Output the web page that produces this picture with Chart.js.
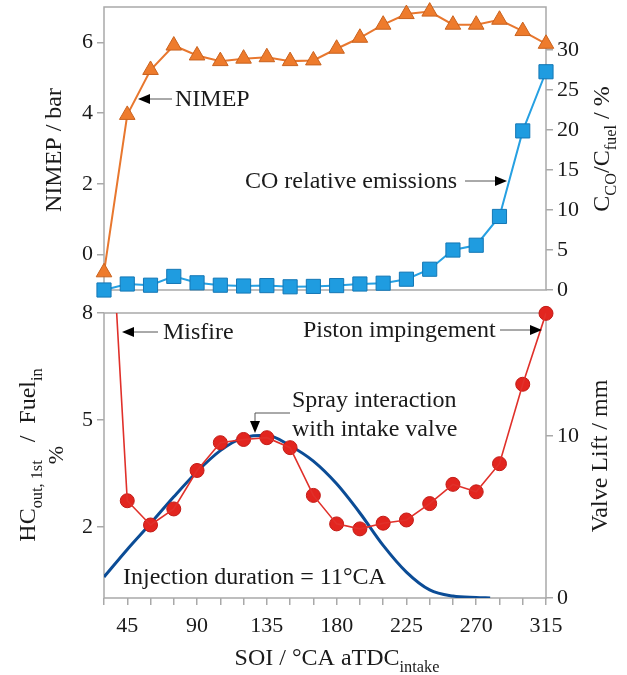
<!DOCTYPE html>
<html>
<head>
<meta charset="utf-8">
<script src="https://cdn.jsdelivr.net/npm/chart.js@4"></script>
<style>
  html, body { margin: 0; padding: 0; background: #fff; }
  #wrap { position: relative; width: 627px; height: 675px; }
  #topBox { position: absolute; left: 0; top: 0; width: 627px; height: 300px; }
  #botBox { position: absolute; left: 0; top: 300px; width: 627px; height: 375px; }
</style>
</head>
<body>
<div id="wrap">
  <div id="topBox"><canvas id="topChart"></canvas></div>
  <div id="botBox"><canvas id="botChart"></canvas></div>
</div>
<script>
// --- data ---
const soi = [30, 45, 60, 75, 90, 105, 120, 135, 150, 165, 180, 195, 210, 225, 240, 255, 270, 285, 300, 315];
const nimep = [-0.5, 3.95, 5.22, 5.91, 5.63, 5.47, 5.54, 5.58, 5.47, 5.49, 5.82, 6.13, 6.5, 6.8, 6.87, 6.5, 6.5, 6.64, 6.32, 5.96];
const coRel = [0.0, 0.75, 0.6, 1.7, 0.9, 0.6, 0.5, 0.55, 0.4, 0.45, 0.55, 0.75, 0.85, 1.35, 2.6, 5.0, 5.6, 9.2, 19.9, 27.3];
const hcOut = [14.3, 2.73, 2.05, 2.5, 3.58, 4.36, 4.45, 4.5, 4.22, 2.88, 2.08, 1.94, 2.1, 2.19, 2.65, 3.19, 2.98, 3.77, 6.0, 7.99];
const liftSoi = [30, 45, 60, 75, 90, 105, 120, 135, 150, 165, 180, 195, 210, 225, 240, 255, 270, 279];
const valveLift = [1.3, 3.0, 4.6, 6.25, 7.8, 9.1, 9.9, 10.05, 9.4, 8.45, 7.05, 5.25, 3.25, 1.6, 0.5, 0.12, 0.03, 0];

const nimepTicks = [0, 2, 4, 6];
const coTicks = [0, 5, 10, 15, 20, 25, 30];
const hcTicks = [2, 5, 8];
const liftTicks = [0, 10];

const pts = (xs, ys) => xs.map((x, i) => ({ x: x, y: ys[i] }));

const SERIF = '"Liberation Serif", "Times New Roman", serif';
const AXIS = '#a9a9a9';
const INK = '#1a1a1a';

// texto con subíndices, opcionalmente girado
function drawParts(ctx, parts, cx, cy, size, rot) {
  ctx.save();
  ctx.translate(cx, cy);
  if (rot) ctx.rotate(rot);
  ctx.fillStyle = INK;
  ctx.textBaseline = 'alphabetic';
  ctx.textAlign = 'left';
  let total = 0;
  parts.forEach(p => {
    ctx.font = (p[1] ? size * 0.68 : size) + 'px ' + SERIF;
    total += ctx.measureText(p[0]).width;
  });
  let x = -total / 2;
  parts.forEach(p => {
    ctx.font = (p[1] ? size * 0.68 : size) + 'px ' + SERIF;
    ctx.fillText(p[0], x, size * 0.34 + (p[1] ? size * 0.28 : 0));
    x += ctx.measureText(p[0]).width;
  });
  ctx.restore();
}

function arrow(ctx, path) {
  ctx.save();
  ctx.strokeStyle = '#555';
  ctx.lineWidth = 1;
  ctx.beginPath();
  ctx.moveTo(path[0][0], path[0][1]);
  for (let i = 1; i < path.length - 1; i++) ctx.lineTo(path[i][0], path[i][1]);
  const [tx, ty] = path[path.length - 1];
  const [px, py] = path[path.length - 2];
  const a = Math.atan2(ty - py, tx - px);
  const len = 12, hw = 5;
  const bx = tx - Math.cos(a) * len, by = ty - Math.sin(a) * len;
  ctx.lineTo(bx, by);
  ctx.stroke();
  ctx.fillStyle = '#000';
  ctx.beginPath();
  ctx.moveTo(tx, ty);
  ctx.lineTo(bx + Math.sin(a) * hw, by - Math.cos(a) * hw);
  ctx.lineTo(bx - Math.sin(a) * hw, by + Math.cos(a) * hw);
  ctx.closePath();
  ctx.fill();
  ctx.restore();
}

function label(ctx, text, x, y, size) {
  ctx.save();
  ctx.font = size + 'px ' + SERIF;
  ctx.fillStyle = INK;
  ctx.textBaseline = 'middle';
  ctx.textAlign = 'left';
  ctx.fillText(text, x, y);
  ctx.restore();
}

const framePlugin = {
  id: 'frame',
  beforeDatasetsDraw(chart) {
    const a = chart.chartArea, ctx = chart.ctx;
    ctx.save();
    ctx.strokeStyle = AXIS;
    ctx.lineWidth = 1.5;
    ctx.strokeRect(a.left, a.top, a.right - a.left, a.bottom - a.top);
    ctx.restore();
  }
};

function yAxis(pos, min, max, list, width) {
  return {
    position: pos, min: min, max: max,
    afterBuildTicks: s => { s.ticks = list.map(v => ({ value: v })); },
    afterFit: s => { s.width = width; s.paddingTop = 0; s.paddingBottom = 0; },
    grid: { display: true, drawOnChartArea: false, tickLength: 7, color: AXIS, lineWidth: 1.5 },
    border: { display: false },
    ticks: { font: { family: SERIF, size: 22 }, color: INK, padding: 4 }
  };
}

const common = {
  responsive: true,
  maintainAspectRatio: false,
  animation: false,
  plugins: { legend: { display: false }, tooltip: { enabled: false } }
};

// --- panel superior: NIMEP y CO ---
new Chart(document.getElementById('topChart'), {
  type: 'line',
  data: {
    datasets: [{
      label: 'NIMEP', data: pts(soi, nimep), yAxisID: 'yL', clip: false,
      borderColor: '#e8772e', borderWidth: 2, pointStyle: 'triangle', pointRadius: 9,
      pointBackgroundColor: '#ee7b2c', pointBorderColor: '#c9621e', pointBorderWidth: 1
    }, {
      label: 'CO', data: pts(soi, coRel), yAxisID: 'yR', clip: false,
      borderColor: '#26a0e2', borderWidth: 2, pointStyle: 'rect', pointRadius: 10,
      pointBackgroundColor: '#1f9ce0', pointBorderColor: '#1477b5', pointBorderWidth: 1
    }]
  },
  options: Object.assign({}, common, {
    layout: { autoPadding: false, padding: { top: 7, bottom: 10, left: 0, right: 0 } },
    scales: {
      x: { type: 'linear', min: 30, max: 315, display: false },
      yL: yAxis('left', -1, 7, nimepTicks, 104),
      yR: yAxis('right', 0, 35.4, coTicks, 81)
    }
  }),
  plugins: [framePlugin, {
    id: 'topText',
    afterDraw(chart) {
      const ctx = chart.ctx;
      drawParts(ctx, [['NIMEP / bar', 0]], 53, 150, 24, -Math.PI / 2);
      drawParts(ctx, [['C', 0], ['CO', 1], ['/C', 0], ['fuel', 1], [' / %', 0]], 601, 149, 24, -Math.PI / 2);
      arrow(ctx, [[172, 99], [138, 99]]);
      label(ctx, 'NIMEP', 175, 100, 24);
      label(ctx, 'CO relative emissions', 245, 182, 24);
      arrow(ctx, [[465, 181], [507, 181]]);
    }
  }]
});

// --- panel inferior: HC y alzado de válvula ---
new Chart(document.getElementById('botChart'), {
  type: 'line',
  data: {
    datasets: [{
      // línea recortada al área (el primer punto sale por arriba: misfire)
      label: 'HC line', data: pts(soi, hcOut), yAxisID: 'yL',
      borderColor: '#e0302a', borderWidth: 1.6, pointRadius: 0
    }, {
      label: 'HC', data: pts(soi, hcOut), yAxisID: 'yL', showLine: false, clip: false,
      pointStyle: 'circle', pointRadius: c => (c.raw && c.raw.y > 8 ? 0 : 7),
      pointBackgroundColor: '#e2251f', pointBorderColor: '#c21b16', pointBorderWidth: 1
    }, {
      label: 'Valve lift', data: pts(liftSoi, valveLift), yAxisID: 'yR',
      borderColor: '#0b4c96', borderWidth: 3, pointRadius: 0, cubicInterpolationMode: 'monotone'
    }]
  },
  options: Object.assign({}, common, {
    layout: { autoPadding: false, padding: { top: 13, bottom: 0, left: 0, right: 0 } },
    scales: {
      x: {
        type: 'linear', min: 30, max: 315, position: 'bottom',
        afterFit: s => { s.height = 77; s.paddingLeft = 0; s.paddingRight = 0; },
        grid: { display: true, drawOnChartArea: false, tickLength: 7, color: AXIS, lineWidth: 1.5 },
        border: { display: false },
        ticks: {
          stepSize: 15, autoSkip: false, maxRotation: 0, padding: 8,
          font: { family: SERIF, size: 22 }, color: INK,
          callback: v => (v % 45 === 0 ? v : '')
        }
      },
      yL: yAxis('left', 0, 8, hcTicks, 104),
      yR: yAxis('right', 0, 17.6, liftTicks, 81)
    }
  }),
  plugins: [framePlugin, {
    id: 'botText',
    afterDraw(chart) {
      const ctx = chart.ctx;
      drawParts(ctx, [['HC', 0], ['out, 1st', 1], ['   /  Fuel', 0], ['in', 1]], 27, 155, 24, -Math.PI / 2);
      drawParts(ctx, [['%', 0]], 56, 155, 22, -Math.PI / 2);
      drawParts(ctx, [['Valve Lift / mm', 0]], 599, 156, 24, -Math.PI / 2);
      drawParts(ctx, [['SOI / °CA aTDC', 0], ['intake', 1]], 337, 357, 24, 0);
      arrow(ctx, [[158, 32], [122, 32]]);
      label(ctx, 'Misfire', 163, 33, 24);
      label(ctx, 'Piston impingement', 303, 31, 24);
      arrow(ctx, [[500, 30], [542, 30]]);
      label(ctx, 'Spray interaction', 292, 101, 24);
      label(ctx, 'with intake valve', 292, 130, 24);
      arrow(ctx, [[290, 113], [255, 113], [255, 133]]);
      label(ctx, 'Injection duration = 11°CA', 123, 278, 24);
    }
  }]
});
</script>
</body>
</html>
